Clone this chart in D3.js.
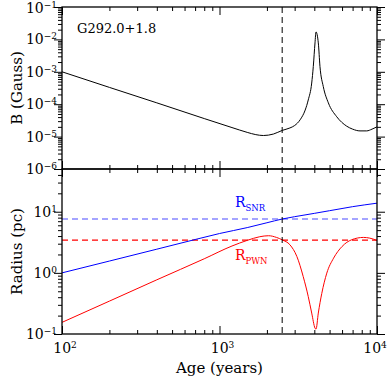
<!DOCTYPE html>
<html>
<head>
<meta charset="utf-8">
<script src="https://cdn.jsdelivr.net/npm/d3@7"></script>
<style>
  body { margin: 0; background: #fff; }
  svg { display: block; }
</style>
</head>
<body>
<div id="chart"></div>
<script>
// Magnetic Field Track (Age In Years, B In Gauss)
const bAge = [100, 200, 400, 800, 1200, 1500, 1700, 1900, 2200, 2500, 2800, 3000, 3250, 3500, 3660, 3850, 3940, 4040, 4100, 4240, 4345, 4560, 4910, 5550, 6420, 7000, 7800, 8600, 9300, 10000];
const bField = [1.0e-3, 3.3e-4, 1.1e-4, 3.6e-5, 1.9e-5, 1.35e-5, 1.15e-5, 1.08e-5, 1.2e-5, 1.55e-5, 1.85e-5, 2.2e-5, 3.3e-5, 6.6e-5, 1.35e-4, 4.5e-4, 1.45e-3, 7.8e-3, 1.7e-2, 7.8e-3, 1.45e-3, 3.5e-4, 1.1e-4, 4.1e-5, 2.1e-5, 1.7e-5, 1.5e-5, 1.5e-5, 1.7e-5, 2.0e-5];

// SNR Radius (pc)
const snrAge = [100, 200, 400, 700, 1000, 1500, 2000, 2500, 3000, 4000, 5000, 7000, 10000];
const snrRadius = [1.0, 1.56, 2.44, 3.51, 4.4, 5.5, 6.6, 7.6, 8.3, 9.4, 10.4, 12.1, 13.8];

// PWN Radius (pc)
const pwnAge = [100, 200, 400, 800, 1200, 1500, 1800, 2050, 2300, 2500, 2800, 3100, 3400, 3660, 3850, 4040, 4100, 4240, 4460, 4800, 5300, 6000, 6900, 8200, 9000, 10000];
const pwnRadius = [0.155, 0.345, 0.77, 1.7, 2.75, 3.4, 3.9, 4.05, 3.8, 3.47, 2.88, 1.85, 0.87, 0.41, 0.22, 0.125, 0.12, 0.22, 0.46, 0.99, 1.74, 2.7, 3.48, 3.8, 3.7, 3.39];

// Reference Levels
const snrLevel = 7.6, pwnLevel = 3.44, markAge = 2500;

// Tick Values
const xTicks = [100, 1000, 10000];
const bTicks = [1e-6, 1e-5, 1e-4, 1e-3, 1e-2, 1e-1];
const rTicks = [0.1, 1, 10];

// Dimensions
let w = 390, h = 377;
let pLeft = 62, pRight = 377, pTop = 7, pMid = 169, pBottom = 334;
let font = "'DejaVu Serif', serif";

let svg = d3.select("#chart").append("svg").attr("width", w).attr("height", h);

// Scales
let x = d3.scaleLog().domain([100, 10000]).range([pLeft, pRight]);
let yB = d3.scaleLog().domain([1e-6, 1e-1]).range([pMid, pTop]);
let yR = d3.scaleLog().domain([0.1, 50]).range([pBottom, pMid]);

// Minor Tick Values Between Decades
function minors(lo, hi) {
  let out = [];
  for (let e = Math.floor(Math.log10(lo) + 1e-9); e < Math.round(Math.log10(hi)); e++)
    for (let m = 2; m <= 9; m++) {
      let v = m * Math.pow(10, e);
      if (v <= hi) out.push(v);
    }
  return out;
}

// Inward Ticks On All Four Sides Of A Panel
function frame(y, y0, y1, majors) {
  let d = y.domain();
  let yMin = minors(d[0], 100).filter((v) => v < d[1]);
  let xMin = minors(100, 10000);
  let g = svg.append("g");
  let sides = [
    [() => d3.axisBottom(x), "translate(0," + y0 + ")", xTicks, xMin],
    [() => d3.axisTop(x), "translate(0," + y1 + ")", xTicks, xMin],
    [() => d3.axisRight(y), "translate(" + pLeft + ",0)", majors, yMin],
    [() => d3.axisLeft(y), "translate(" + pRight + ",0)", majors, yMin]
  ];
  sides.forEach((s) => {
    let size = [8, 4];
    [s[2], s[3]].forEach((vals, i) => {
      g.append("g").attr("transform", s[1])
        .call(s[0]().tickValues(vals).tickSize(-size[i]).tickSizeOuter(0).tickFormat(""))
        .call((a) => a.select(".domain").remove())
        .selectAll("line").attr("stroke", "#000").attr("stroke-width", 1);
    });
  });
  g.append("rect").attr("x", pLeft).attr("y", y1).attr("width", pRight - pLeft).attr("height", y0 - y1)
    .attr("fill", "none").attr("stroke", "#000").attr("stroke-width", 1.3);
}

// Power Of Ten Label
function powLabel(px, py, exp, anchor) {
  let t = svg.append("text").attr("x", px).attr("y", py).attr("text-anchor", anchor)
    .attr("font-family", font).attr("font-size", 14).attr("fill", "#000");
  t.append("tspan").text("10");
  t.append("tspan").attr("dy", -5).attr("font-size", 9).text(exp < 0 ? "\u2212" + (-exp) : exp);
}

// Curves
let line = (yScale) => d3.line().x((d) => x(d[0])).y((d) => yScale(d[1])).curve(d3.curveMonotoneX);

function drawCurve(ages, vals, yScale, color) {
  svg.append("path").datum(d3.zip(ages, vals))
    .attr("d", line(yScale)).attr("fill", "none").attr("stroke", color).attr("stroke-width", 1);
}

drawCurve(bAge, bField, yB, "#000");

// Horizontal Reference Levels
[[snrLevel, "#4a4aff"], [pwnLevel, "#ff0000"]].forEach((l) => {
  svg.append("line").attr("x1", pLeft).attr("x2", pRight).attr("y1", yR(l[0])).attr("y2", yR(l[0]))
    .attr("stroke", l[1]).attr("stroke-width", 1.2).attr("stroke-dasharray", "6,4");
});

drawCurve(snrAge, snrRadius, yR, "#0000ff");
drawCurve(pwnAge, pwnRadius, yR, "#ff0000");

// Vertical Age Marker
svg.append("line").attr("x1", x(markAge)).attr("x2", x(markAge)).attr("y1", pTop).attr("y2", pBottom)
  .attr("stroke", "#000").attr("stroke-width", 1).attr("stroke-dasharray", "6,4");

frame(yB, pMid, pTop, bTicks);
frame(yR, pBottom, pMid, rTicks);

// Tick Labels
bTicks.forEach((v) => powLabel(57, Math.max(yB(v) + 5, 13), Math.round(Math.log10(v)), "end"));
rTicks.forEach((v) => powLabel(57, yR(v) + 5, Math.round(Math.log10(v)), "end"));
xTicks.forEach((v) => powLabel(Math.min(x(v) + 3, 375), 353, Math.round(Math.log10(v)), "middle"));

// Axis Titles
svg.append("text").attr("x", (pLeft + pRight) / 2).attr("y", 373).attr("text-anchor", "middle")
  .attr("font-family", font).attr("font-size", 15).text("Age (years)");
svg.append("text").attr("transform", "translate(22," + (pTop + pMid) / 2 + ") rotate(-90)").attr("text-anchor", "middle")
  .attr("font-family", font).attr("font-size", 15).text("B (Gauss)");
svg.append("text").attr("transform", "translate(22," + (pMid + pBottom) / 2 + ") rotate(-90)").attr("text-anchor", "middle")
  .attr("font-family", font).attr("font-size", 15).text("Radius (pc)");

// Source Name
svg.append("text").attr("x", 77).attr("y", 33).attr("font-family", font).attr("font-size", 13).text("G292.0+1.8");

// Series Labels
function seriesLabel(px, py, sub, color) {
  let t = svg.append("text").attr("x", px).attr("y", py).attr("fill", color)
    .attr("font-family", font).attr("font-size", 14);
  t.append("tspan").text("R");
  t.append("tspan").attr("dy", 4).attr("font-size", 8.5).text(sub);
}
seriesLabel(235, 207, "SNR", "#0000ff");
seriesLabel(235, 260, "PWN", "#ff0000");
</script>
</body>
</html>
